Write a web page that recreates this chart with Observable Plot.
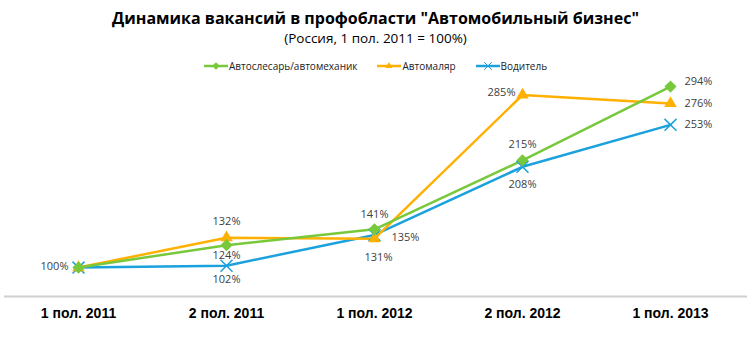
<!DOCTYPE html>
<html>
<head>
<meta charset="utf-8">
<script src="https://cdn.jsdelivr.net/npm/d3@7"></script>
<script src="https://cdn.jsdelivr.net/npm/@observablehq/plot@0.6"></script>
<style>
  html, body { margin: 0; padding: 0; background: #fff; }
  #wrap { width: 751px; height: 351px; position: relative; overflow: hidden; font-family: "Open Sans", "Liberation Sans", sans-serif; }
  #title { position: absolute; top: 7px; left: 0; width: 751px; text-align: center; font-weight: bold; font-size: 16px; color: #000; }
  #subtitle { position: absolute; top: 29px; left: 0; width: 751px; text-align: center; font-size: 13.5px; color: #000; }
  #legend { position: absolute; top: 59px; left: 0; width: 751px; display: flex; justify-content: center; gap: 20px; font-size: 10px; color: #222; }
  #legend .item { display: flex; align-items: center; gap: 1px; }
  #chart { position: absolute; top: 78px; left: 0; }
</style>
</head>
<body>
<div id="wrap">
  <div id="title">Динамика вакансий в профобласти "Автомобильный бизнес"</div>
  <div id="subtitle">(Россия, 1 пол. 2011 = 100%)</div>
  <div id="legend"></div>
  <div id="chart"></div>
</div>
<script>
const periods = ["1 пол. 2011", "2 пол. 2011", "1 пол. 2012", "2 пол. 2012", "1 пол. 2013"];
const seriesNames = ["Автослесарь/автомеханик", "Автомаляр", "Водитель"];
const mechanic = [100, 124, 141, 215, 294];
const painter = [100, 132, 131, 285, 276];
const driver = [100, 102, 135, 208, 253];

const colors = ["#78c83c", "#ffb000", "#1ba1dd"];
const symbols = ["diamond2", "triangle2", "times"];
const valuesBySeries = [mechanic, painter, driver];

// label offsets per series per point: [dx, dy, anchor] (null = no label)
const labelOffsets = [
  [null, [0, 10, "middle"], [0, -15, "middle"], [0, -16, "middle"], [14, -5, "start"]],
  [null, [0, -16, "middle"], [4, 19, "middle"], [-7, -3, "end"], [14, 0, "start"]],
  [[-10, -1, "end"], [0, 14, "middle"], [17, 3, "start"], [0, 18, "middle"], [14, 0, "start"]]
];

const data = [];
valuesBySeries.forEach((vals, s) => {
  vals.forEach((v, i) => data.push({series: seriesNames[s], s, period: periods[i], i, value: v, off: labelOffsets[s][i]}));
});

const labelMarks = data.filter(d => d.off).map(d =>
  Plot.text([d], {
    x: "period", y: "value", text: r => r.value + "%",
    dx: d.off[0], dy: d.off[1], textAnchor: d.off[2],
    fill: "#404040", fontSize: 11, fontFamily: "Open Sans, Liberation Sans, sans-serif"
  })
);

const seriesMarks = [];
[2, 1, 0].forEach(s => {
  const d = data.filter(r => r.s === s);
  seriesMarks.push(Plot.line(d, {x: "period", y: "value", stroke: colors[s], strokeWidth: 2.5}));
});
[2, 1, 0].forEach(s => {
  const d = data.filter(r => r.s === s);
  if (symbols[s] === "times") {
    seriesMarks.push(Plot.dot(d, {x: "period", y: "value", symbol: "times", stroke: colors[s], strokeWidth: 1.5, r: 5.5}));
  } else {
    seriesMarks.push(Plot.dot(d, {x: "period", y: "value", symbol: symbols[s], fill: colors[s], stroke: "none", r: s === 1 ? 6 : 5.5}));
  }
});

const chart = Plot.plot({
  width: 751,
  height: 273,
  marginLeft: 0, marginRight: 0, marginTop: 0, marginBottom: 0,
  style: {background: "#fff", overflow: "visible"},
  x: {type: "point", domain: periods, range: [78, 670], padding: 0, label: null, axis: null},
  y: {domain: [69, 300], range: [218, 2.5], axis: null},
  marks: [
    Plot.ruleY([69], {insetLeft: 4, insetRight: 4, stroke: "#d0d0d0", strokeWidth: 2}),
    ...seriesMarks,
    ...labelMarks,
    Plot.text(periods, {x: d => d, y: 69, dy: 17, text: d => d, fontWeight: "bold", fontSize: 14, fill: "#000", fontFamily: "Liberation Sans, Arial, sans-serif"})
  ]
});
document.getElementById("chart").appendChild(chart);

// legend
const legend = document.getElementById("legend");
seriesNames.forEach((name, s) => {
  const item = document.createElement("div");
  item.className = "item";
  const sw = d3.create("svg").attr("width", 24).attr("height", 12);
  sw.append("line").attr("x1", 0).attr("x2", 24).attr("y1", 6).attr("y2", 6).attr("stroke", colors[s]).attr("stroke-width", 2.5);
  const sym = d3.symbol().type(s === 0 ? d3.symbolDiamond2 : s === 1 ? d3.symbolTriangle2 : d3.symbolTimes).size(s === 2 ? 40 : 36);
  const p = sw.append("path").attr("d", sym()).attr("transform", "translate(12,6)");
  if (s === 2) p.attr("fill", "none").attr("stroke", colors[s]).attr("stroke-width", 1);
  else p.attr("fill", colors[s]);
  item.appendChild(sw.node());
  const t = document.createElement("span");
  t.textContent = name;
  item.appendChild(t);
  legend.appendChild(item);
});
</script>
</body>
</html>
